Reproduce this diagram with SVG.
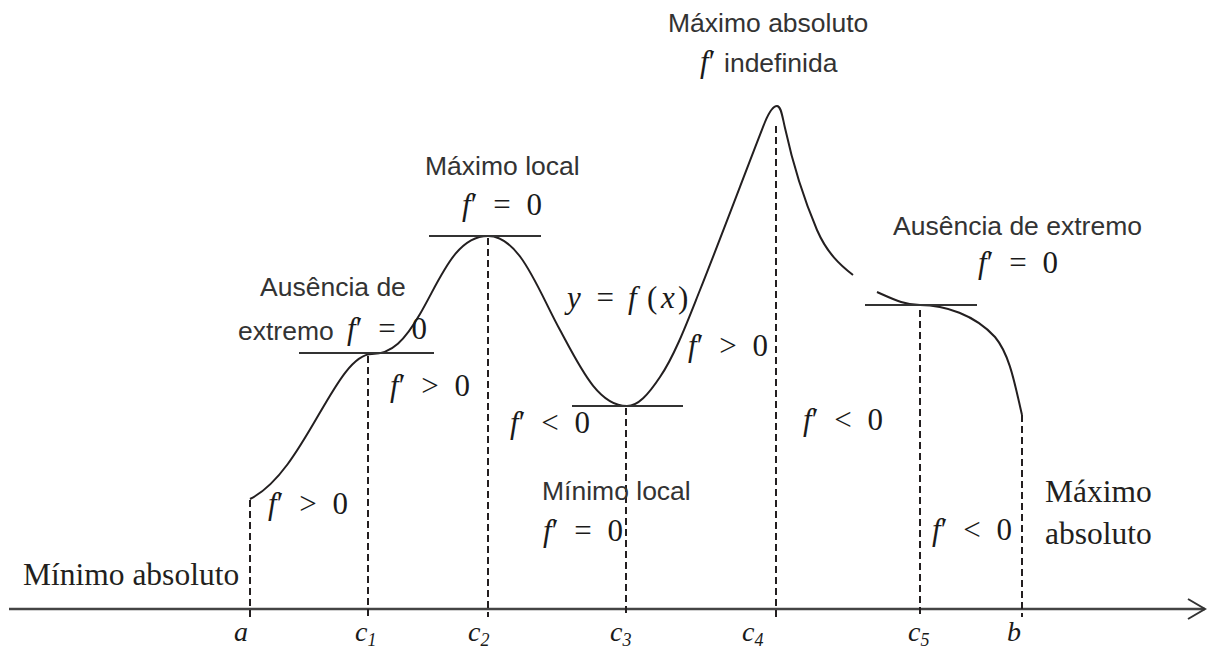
<svg xmlns="http://www.w3.org/2000/svg" width="1210" height="650" viewBox="0 0 1210 650">
<defs>
<style>
.s{font-family:"Liberation Sans",Arial,sans-serif;font-size:26.5px;fill:#333}
.t{font-family:"Liberation Serif","Times New Roman",serif;font-size:31.5px;fill:#231f20}
.m{font-family:"Liberation Serif","DejaVu Serif",serif;font-size:31px;fill:#1a1a1a;word-spacing:8px}
.i{font-style:italic}
.lab{font-family:"Liberation Serif","DejaVu Serif",serif;font-style:italic;font-size:28px;fill:#1a1a1a}
.sub{font-size:18px}
.curve{fill:none;stroke:#231f20;stroke-width:2}
.tan{stroke:#333;stroke-width:2}
.dash{stroke:#231f20;stroke-width:2;stroke-dasharray:7 4}
.axis{stroke:#444;stroke-width:2.5;fill:none}
</style>
<marker id="arrow" markerUnits="userSpaceOnUse" markerWidth="20" markerHeight="24" refX="18" refY="12" orient="auto">
<polyline points="1,2 18,12 1,22" fill="none" stroke="#333" stroke-width="2"/>
</marker>
</defs>
<rect width="1210" height="650" fill="#fff"/>

<g id="axis">
<line class="axis" x1="9" y1="609" x2="1205" y2="609" marker-end="url(#arrow)"/>
</g>

<g id="curve">
<path class="curve" d="M250,499 C305,472 335,354 372,354 C392,354 405,340 420,314 C440,280 455,236 488,236 C520,236 538,290 560,330 C580,367 598,406 627,406 C638,406 648,395 660,377 C675,355 688,320 700,290 C720,240 750,160 765,122 C770,110 774,106 777,106 C781,106 782,115 785,128 C792,160 800,190 817,230 C827,253 840,265 853,275"/>
<path class="curve" d="M877,292 C895,300 905,305 920,305 C945,305 975,315 995,337 C1010,355 1015,385 1022,415"/>
</g>

<g id="tangents">
<line class="tan" x1="299" y1="353" x2="434" y2="353"/>
<line class="tan" x1="429" y1="236" x2="541" y2="236"/>
<line class="tan" x1="572" y1="406" x2="683" y2="406"/>
<line class="tan" x1="865" y1="305" x2="977" y2="305"/>
</g>

<g id="connectors">
<line class="dash" x1="250" y1="500" x2="250" y2="617"/>
<line class="dash" x1="368" y1="356" x2="368" y2="617"/>
<line class="dash" x1="488" y1="238" x2="488" y2="617"/>
<line class="dash" x1="626" y1="408" x2="626" y2="617"/>
<line class="dash" x1="776" y1="126" x2="776" y2="617"/>
<line class="dash" x1="920" y1="310" x2="920" y2="617"/>
<line class="dash" x1="1022" y1="415" x2="1022" y2="617"/>
</g>

<g id="axis-labels">
<text class="lab" x="234" y="641">a</text>
<text class="lab" x="355" y="641">c<tspan class="sub" dy="5">1</tspan></text>
<text class="lab" x="468" y="641">c<tspan class="sub" dy="5">2</tspan></text>
<text class="lab" x="610" y="641">c<tspan class="sub" dy="5">3</tspan></text>
<text class="lab" x="742" y="641">c<tspan class="sub" dy="5">4</tspan></text>
<text class="lab" x="908" y="641">c<tspan class="sub" dy="5">5</tspan></text>
<text class="lab" x="1007" y="641">b</text>
</g>

<g id="max-absoluto-c4">
<text class="s" x="668" y="32">Máximo absoluto</text>
<text class="s" x="700" y="72"><tspan class="m i">f</tspan><tspan class="m">′</tspan><tspan x="724">indefinida</tspan></text>
</g>

<g id="max-local">
<text class="s" x="425" y="175">Máximo local</text>
<text class="m" x="462" y="215"><tspan class="i">f</tspan>′ = 0</text>
</g>

<g id="ausencia-c1">
<text class="s" x="260" y="296">Ausência de</text>
<text class="s" x="238" y="340">extremo</text>
<text class="m" x="347" y="339"><tspan class="i">f</tspan>′ = 0</text>
</g>

<g id="min-local">
<text class="s" x="542" y="500">Mínimo local</text>
<text class="m" x="543" y="541"><tspan class="i">f</tspan>′ = 0</text>
</g>

<g id="ausencia-c5">
<text class="s" x="893" y="235">Ausência de extremo</text>
<text class="m" x="978" y="273"><tspan class="i">f</tspan>′ = 0</text>
</g>

<g id="min-absoluto">
<text class="t" x="23" y="585">Mínimo absoluto</text>
</g>

<g id="max-absoluto-b">
<text class="t" x="1045" y="502">Máximo</text>
<text class="t" x="1045" y="544">absoluto</text>
</g>

<g id="function-label">
<text class="m" x="567" y="308"><tspan class="i">y</tspan> = <tspan class="i" x="628">f</tspan><tspan x="647">(</tspan><tspan class="i" x="661">x</tspan><tspan x="678">)</tspan></text>
</g>

<g id="signs">
<text class="m" x="268" y="514"><tspan class="i">f</tspan>′ &gt; 0</text>
<text class="m" x="390" y="396"><tspan class="i">f</tspan>′ &gt; 0</text>
<text class="m" x="510" y="433"><tspan class="i">f</tspan>′ &lt; 0</text>
<text class="m" x="688" y="356"><tspan class="i">f</tspan>′ &gt; 0</text>
<text class="m" x="803" y="430"><tspan class="i">f</tspan>′ &lt; 0</text>
<text class="m" x="932" y="540"><tspan class="i">f</tspan>′ &lt; 0</text>
</g>
</svg>
